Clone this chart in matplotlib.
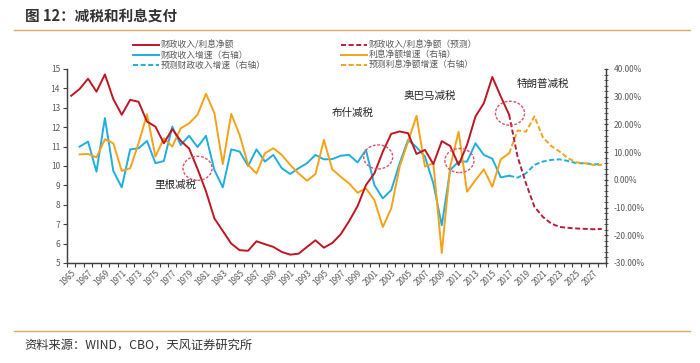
import matplotlib
matplotlib.use("Agg")
import matplotlib.pyplot as plt
from matplotlib.patches import Ellipse
from matplotlib.lines import Line2D
from matplotlib.ticker import MultipleLocator, FixedLocator, FuncFormatter

plt.rcParams['font.family'] = ['Noto Sans CJK SC', 'DejaVu Sans']

# 财政收入/利息净额 (左轴), 1965-2017
ratio_years = list(range(1965, 2018))
ratio = [13.62, 13.97, 14.5, 13.83, 14.72, 13.45, 12.64, 13.41, 13.31, 12.29,
         12.03, 11.17, 11.9, 11.3, 10.9, 9.85, 8.7, 7.3, 6.65, 6.0,
         5.66, 5.63, 6.12, 5.97, 5.83, 5.57, 5.43, 5.48, 5.83, 6.17,
         5.79, 6.03, 6.48, 7.16, 7.93, 9.02, 9.62, 10.74, 11.66, 11.78,
         11.69, 10.62, 10.83, 10.1, 11.28, 11.03, 10.05, 11.09, 12.55, 13.24,
         14.59, 13.59, 12.64]

# 预测部分, 2017-2028
fc_years = list(range(2017, 2029))
ratio_fc = [12.64, 10.48, 9.1, 7.9, 7.38, 7.03, 6.86, 6.81, 6.78, 6.76, 6.74, 6.76]

# 增速 (右轴, %), 1966-2017
growth_years = list(range(1966, 2018))
rev_growth = [12.0, 13.8, 2.95, 22.3, 3.2, -2.7, 11.0, 11.4, 14.05, 6.0,
              6.8, 19.2, 12.6, 15.9, 11.8, 15.9, 3.55, -2.7, 11.0, 10.2,
              5.0, 11.0, 6.6, 9.0, 4.2, 2.1, 4.2, 6.0, 9.0, 7.4,
              7.5, 8.7, 9.0, 6.3, 10.8, -1.9, -6.7, -3.7, 6.0, 14.4,
              11.8, 8.4, -1.3, -16.4, 3.55, 6.6, 6.6, 13.2, 9.0, 7.65,
              0.9, 1.5]
int_growth = [9.2, 9.35, 8.1, 14.65, 13.2, 3.2, 4.2, 13.2, 23.7, 8.4,
              15.0, 12.0, 18.6, 20.4, 23.5, 31.1, 24.1, 5.7, 23.8, 16.2,
              5.4, 2.3, 9.6, 11.4, 9.0, 5.4, 2.3, -0.3, 2.1, 14.4,
              3.8, 1.1, -1.3, -4.65, -3.1, -7.3, -17.0, -10.3, 4.8, 13.8,
              23.1, 4.8, 6.0, -26.4, 4.8, 17.4, -4.3, -0.1, 3.8, -2.5,
              7.4, 9.6]
rev_growth_fc = [1.5, 0.8, 2.35, 5.4, 6.6, 7.2, 7.4, 6.8, 6.0, 6.0, 5.6, 5.7]
int_growth_fc = [9.6, 17.8, 17.4, 22.9, 15.4, 12.2, 10.2, 7.8, 6.3, 6.0, 5.4, 5.4]

# 注释: (文字, 年份, 左轴值)
notes = [("里根减税", 1977.4, 9.02), ("布什减税", 1998.4, 12.72),
         ("奥巴马减税", 2007.6, 13.63), ("特朗普减税", 2021.0, 14.22)]
circles = [(1980.0, 9.88), (2001.45, 10.47), (2011.1, 10.28), (2017.1, 12.72)]

RED = '#BE1622'
RED_D = '#B3203A'
BLUE = '#1FAEE0'
ORANGE = '#F5A21B'
GRAY = '#595959'
dash = (0, (2.6, 1.3))

W, H = 700, 363
fig = plt.figure(figsize=(W / 100, H / 100), dpi=100)
ax = fig.add_axes([67 / W, 1 - 263 / H, 539 / W, 194 / H])
ax2 = ax.twinx()

lw = 1.4
ax.plot(ratio_years, ratio, color=RED, lw=lw, zorder=3)
ax.plot(fc_years, ratio_fc, color=RED_D, lw=lw, ls=dash, zorder=3)
ax2.plot(growth_years, rev_growth, color=BLUE, lw=lw)
ax2.plot(growth_years, int_growth, color=ORANGE, lw=lw)
ax2.plot(fc_years, rev_growth_fc, color=BLUE, lw=lw, ls=dash)
ax2.plot(fc_years, int_growth_fc, color=ORANGE, lw=lw, ls=dash)

ax.set_zorder(ax2.get_zorder() + 1)
ax.patch.set_visible(False)

ax.set_xlim(1964.5, 2028.5)
ax.set_ylim(5, 15)
ax2.set_ylim(-30, 40)

ax.yaxis.set_major_locator(MultipleLocator(1))
ax2.yaxis.set_major_locator(MultipleLocator(10))
ax2.yaxis.set_minor_locator(MultipleLocator(2))
ax2.yaxis.set_major_formatter(FuncFormatter(lambda v, p: f"{v:.2f}%"))

ax.xaxis.set_major_locator(FixedLocator(list(range(1965, 2029, 2))))
ax.xaxis.set_minor_locator(FixedLocator([y + 0.5 for y in range(1964, 2029)]))
ax.set_xticklabels([str(y) for y in range(1965, 2029, 2)], rotation=45,
                   ha='right', rotation_mode='anchor')

ax.tick_params(axis='x', which='major', length=0, pad=4, labelsize=5.8, colors=GRAY)
ax.tick_params(axis='x', which='minor', length=3, width=0.8, color='#404040')
ax.tick_params(axis='y', which='major', length=3, width=0.8, color='#404040',
               labelsize=6, labelcolor=GRAY, pad=2)
ax2.tick_params(axis='y', which='major', length=3, width=0.8, color='#404040',
                labelsize=6, labelcolor=GRAY, pad=4, direction='inout')
ax2.tick_params(axis='y', which='minor', length=2.5, width=0.6, color='#404040',
                direction='inout')

for a in (ax, ax2):
    a.spines['top'].set_visible(False)
    for s in ('left', 'right', 'bottom'):
        a.spines[s].set_color('#404040')
        a.spines[s].set_linewidth(0.9)

for (x, y) in circles:
    ax.add_patch(Ellipse((x, y), 3.45, 1.24, fill=False, ec='#E0506A',
                         lw=1.0, ls=(0, (2, 1.2)), zorder=4))
for (t, x, y) in notes:
    ax.text(x, y, t, ha='center', va='center', fontsize=7.6, color='#262626', zorder=5)

# 图例
legend_items = [
    (133, 45, RED, '-', "财政收入/利息净额"),
    (133, 55, BLUE, '-', "财政收入增速（右轴）"),
    (133, 65, BLUE, dash, "预测财政收入增速（右轴）"),
    (341, 45, RED_D, dash, "财政收入/利息净额（预测）"),
    (341, 55, ORANGE, '-', "利息净额增速（右轴）"),
    (341, 65, ORANGE, dash, "预测利息净额增速（右轴）"),
]
for (x0, y0, c, ls, label) in legend_items:
    fig.add_artist(Line2D([x0 / W, (x0 + 26) / W], [1 - y0 / H] * 2,
                          color=c, lw=lw, ls=ls))
    fig.text((x0 + 28) / W, 1 - y0 / H, label, ha='left', va='center',
             fontsize=6.3, color=GRAY)

# 标题与来源
fig.text(25 / W, 1 - 17 / H, "图 12：减税和利息支付", ha='left', va='center',
         fontsize=10.5, fontweight='bold', color='#333333')
fig.add_artist(Line2D([14 / W, 690 / W], [1 - 30 / H] * 2, color='#DDA86B', lw=1.0))
fig.add_artist(Line2D([14 / W, 690 / W], [1 - 331 / H] * 2, color='#DDA86B', lw=1.0))
fig.text(24 / W, 1 - 345 / H, "资料来源：WIND，CBO，天风证券研究所", ha='left',
         va='center', fontsize=8.8, color='#333333')

fig.savefig("out.png", dpi=100)
